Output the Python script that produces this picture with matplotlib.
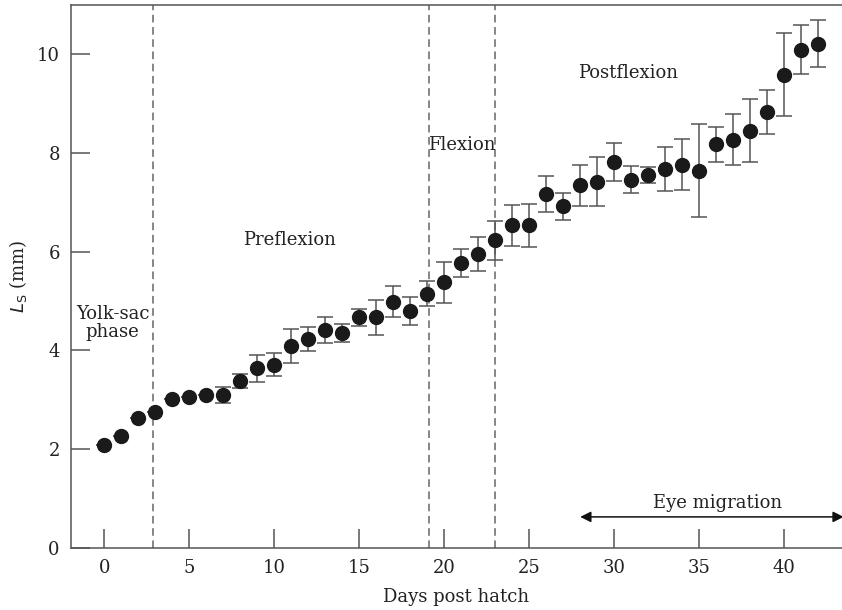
import numpy as np
import matplotlib.pyplot as plt

# mean standard length per day post hatch, with error (SD)
days = np.arange(0, 43)
ls_mean = [2.09, 2.27, 2.64, 2.75, 3.02, 3.05, 3.10, 3.09, 3.38, 3.64,
           3.71, 4.09, 4.23, 4.42, 4.35, 4.67, 4.67, 4.99, 4.80, 5.15,
           5.38, 5.77, 5.95, 6.23, 6.53, 6.53, 7.17, 6.92, 7.34, 7.42,
           7.82, 7.46, 7.55, 7.67, 7.76, 7.64, 8.17, 8.27, 8.45, 8.83,
           9.58, 10.09, 10.21]
ls_err = [0.0, 0.0, 0.0, 0.0, 0.0, 0.0, 0.0, 0.16, 0.15, 0.27,
          0.23, 0.34, 0.25, 0.26, 0.18, 0.17, 0.36, 0.31, 0.29, 0.25,
          0.41, 0.29, 0.35, 0.39, 0.42, 0.43, 0.36, 0.27, 0.42, 0.50,
          0.38, 0.27, 0.16, 0.45, 0.52, 0.94, 0.35, 0.52, 0.64, 0.45,
          0.84, 0.50, 0.48]

# phase boundaries (days)
phase_bounds = [2.87, 19.08, 23.0]
eye_migration = (28.0, 43.5)

plt.rcParams['font.family'] = ['DejaVu Serif']

fig = plt.figure(figsize=(8.42, 6.10), dpi=100)
ax = fig.add_axes([0.0843, 0.1016, 0.9157, 0.8907])

# error bars and mean values
ax.errorbar(days, ls_mean, yerr=ls_err, fmt='o', color='#1a1a1a', ms=10,
            ecolor='#555555', elinewidth=1.1, capsize=6, capthick=1.1, zorder=3)

# phase boundaries
for b in phase_bounds:
    ax.axvline(b, color='#666666', ls=(0, (5, 3)), lw=1.1, zorder=1)

# phase labels
fs = 13
ax.text(0.5, 4.56, 'Yolk-sac\nphase', ha='center', va='center', fontsize=fs,
        color='#222222', linespacing=1.0)
ax.text(10.9, 6.24, 'Preflexion', ha='center', va='center', fontsize=fs, color='#222222')
ax.text(19.05, 8.15, 'Flexion', ha='left', va='center', fontsize=fs, color='#222222')
ax.text(30.8, 9.62, 'Postflexion', ha='center', va='center', fontsize=fs, color='#222222')

# eye migration arrow
ax.annotate('', xy=(eye_migration[0], 0.63), xytext=(eye_migration[1], 0.63),
            arrowprops=dict(arrowstyle='<|-|>', color='#111111', lw=1.1,
                            mutation_scale=16, shrinkA=0, shrinkB=0))
ax.text(36.1, 0.91, 'Eye migration', ha='center', va='center', fontsize=fs, color='#222222')

ax.set_xlim(-1.95, 43.4)
ax.set_ylim(0, 11)
ax.set_xticks([0, 5, 10, 15, 20, 25, 30, 35, 40])
ax.set_yticks([0, 2, 4, 6, 8, 10])
ax.tick_params(direction='in', length=14, width=1.1, color='#555555',
               labelsize=fs, labelcolor='#222222', pad=8)
ax.spines['right'].set_visible(False)
for s in ['left', 'bottom', 'top']:
    ax.spines[s].set_color('#555555')
    ax.spines[s].set_linewidth(1.1)

ax.set_xlabel('Days post hatch', fontsize=fs, color='#222222', labelpad=8)
ax.set_ylabel(r'$L_\mathrm{S}$ (mm)', fontsize=fs, color='#222222', labelpad=6)

fig.savefig('out.png', dpi=100)
